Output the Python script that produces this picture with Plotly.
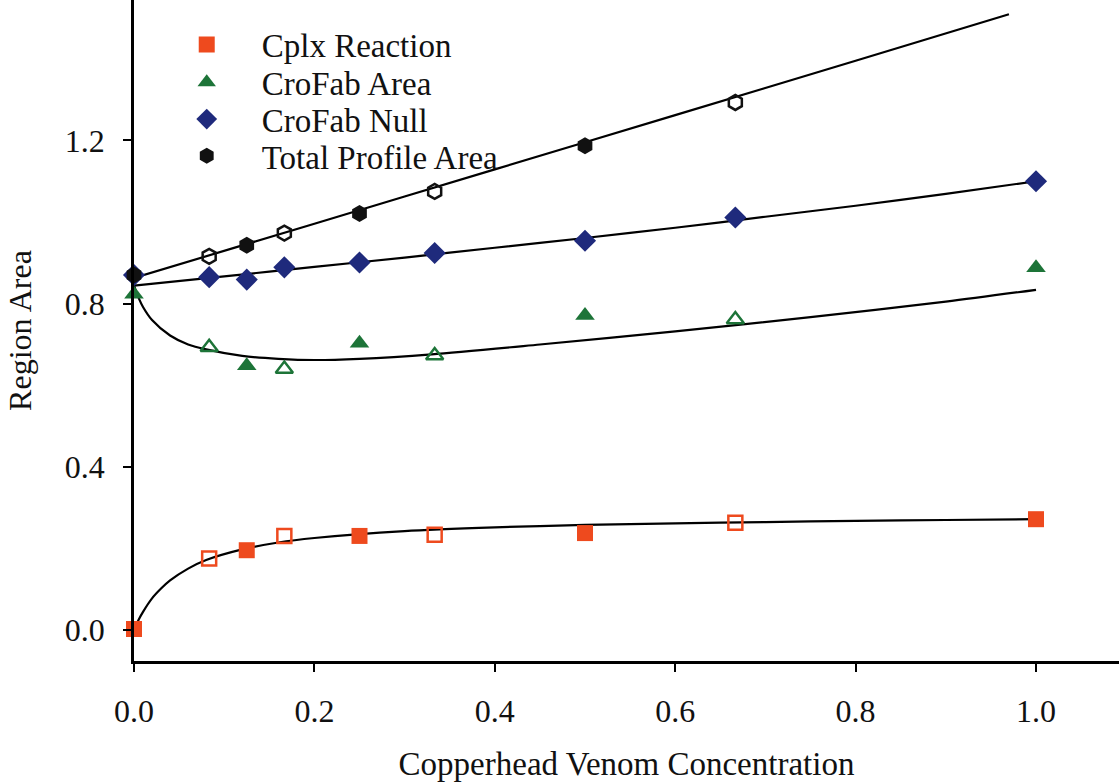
import plotly.graph_objects as go

# Venom concentrations at which each region area was measured
conc = [0.0, 1/12, 1/8, 1/6, 1/4, 1/3, 1/2, 2/3, 1.0]

cplx_reaction = [0.003, 0.176, 0.196, 0.231, 0.231, 0.234, 0.238, 0.263, 0.272]
crofab_area = [0.823, 0.693, 0.648, 0.640, 0.703, 0.673, 0.771, 0.761, 0.888]
crofab_null = [0.870, 0.865, 0.859, 0.889, 0.901, 0.924, 0.954, 1.011, 1.100]
total_area = [0.870, 0.916, 0.943, 0.973, 1.021, 1.075, 1.187, 1.293]

# Fitted curves, sampled along the concentration axis
cplx_fit_x = [0.0, 0.005, 0.01, 0.02, 0.03, 0.04, 0.06, 0.08, 0.12, 0.16, 0.2, 0.3, 0.4, 0.5, 0.6, 0.7, 0.8, 0.9, 1.0]
cplx_fit_y = [0.0, 0.025, 0.045, 0.078, 0.102, 0.122, 0.151, 0.172, 0.198, 0.215, 0.226, 0.243, 0.252, 0.258, 0.262, 0.265, 0.268, 0.270, 0.272]

area_fit_x = [0.0, 0.005, 0.01, 0.02, 0.04, 0.06, 0.08, 0.12, 0.16, 0.2, 0.25, 0.33, 0.45, 0.6, 0.75, 0.9, 1.0]
area_fit_y = [0.844, 0.815, 0.792, 0.760, 0.722, 0.700, 0.688, 0.672, 0.665, 0.662, 0.665, 0.676, 0.700, 0.732, 0.767, 0.805, 0.834]

null_fit_x = [0.0, 0.1, 0.2, 0.3, 0.4, 0.5, 0.6, 0.7, 0.8, 0.9, 1.0]
null_fit_y = [0.844, 0.867, 0.890, 0.913, 0.937, 0.961, 0.986, 1.013, 1.040, 1.069, 1.100]

total_fit_x = [0.0, 0.2, 0.4, 0.6, 0.8, 0.97]
total_fit_y = [0.863, 0.996, 1.129, 1.262, 1.395, 1.509]

RED = "#ee4a1e"
GREEN = "#1d7438"
NAVY = "#1f2a7c"
BLACK = "#111111"
FONT = "Liberation Serif"

fig = go.Figure()

# Fit lines underneath the markers
for fx, fy in [(cplx_fit_x, cplx_fit_y), (area_fit_x, area_fit_y),
               (null_fit_x, null_fit_y), (total_fit_x, total_fit_y)]:
    fig.add_trace(go.Scatter(
        x=fx, y=fy, mode="lines", showlegend=False, hoverinfo="skip",
        line=dict(color="black", width=2.2, shape="spline", smoothing=0.8),
        cliponaxis=False,
    ))


def add_series(name, ys, symbol, color, size, legend_id, alternate=True):
    """Solid markers at even indices, hollow markers at odd ones."""
    solid_x = [c for i, c in enumerate(conc[:len(ys)]) if not alternate or i % 2 == 0]
    solid_y = [v for i, v in enumerate(ys) if not alternate or i % 2 == 0]
    fig.add_trace(go.Scatter(
        x=solid_x, y=solid_y, mode="markers", name=name, legendgroup=name,
        legend=legend_id,
        marker=dict(symbol=symbol, color=color, size=size, line=dict(width=0)),
        cliponaxis=False,
    ))
    if alternate:
        hx = [c for i, c in enumerate(conc[:len(ys)]) if i % 2 == 1]
        hy = [v for i, v in enumerate(ys) if i % 2 == 1]
        fig.add_trace(go.Scatter(
            x=hx, y=hy, mode="markers", name=name, legendgroup=name, showlegend=False,
            marker=dict(symbol=symbol + "-open", color=color, size=size - 2,
                        line=dict(width=2.5, color=color)),
            cliponaxis=False,
        ))


add_series("Cplx Reaction", cplx_reaction, "square", RED, 16, "legend")
add_series("CroFab Area", crofab_area, "triangle-up", GREEN, 17, "legend2")
add_series("CroFab Null", crofab_null, "diamond", NAVY, 17, "legend3", alternate=False)
add_series("Total Profile Area", total_area, "hexagon", BLACK, 17, "legend4")

# One legend box per entry so the rows sit close together
PLOT_H = 666
row_centres = [45, 83, 120, 157]
legend_boxes = {}
for key, yc in zip(["legend", "legend2", "legend3", "legend4"], row_centres):
    legend_boxes[key] = dict(
        x=0.018, y=1 - yc / PLOT_H, xanchor="left", yanchor="middle",
        bgcolor="rgba(0,0,0,0)", font=dict(family=FONT, size=33, color="#111111"),
        itemwidth=100,
    )

fig.update_layout(
    width=1119, height=782,
    margin=dict(l=134, r=0, t=0, b=116),
    paper_bgcolor="white", plot_bgcolor="white",
    font=dict(family=FONT, color="#111111", size=32),
    showlegend=True,
    **legend_boxes,
    xaxis=dict(
        range=[0, 1.092], tickvals=[0, 0.2, 0.4, 0.6, 0.8, 1.0],
        ticktext=["0.0", "0.2", "0.4", "0.6", "0.8", "1.0"],
        showline=True, linecolor="black", linewidth=2.5,
        ticks="outside", ticklen=8, tickwidth=2, tickcolor="black",
        showgrid=False, zeroline=False, ticklabelstandoff=12,
        tickfont=dict(family=FONT, size=32),
        title=dict(text="Copperhead Venom Concentration", standoff=30,
                   font=dict(family=FONT, size=33)),
    ),
    yaxis=dict(
        range=[-0.0754, 1.544], tickvals=[0, 0.4, 0.8, 1.2],
        ticktext=["0.0", "0.4", "0.8", "1.2"],
        showline=True, linecolor="black", linewidth=2.5,
        ticks="outside", ticklen=8, tickwidth=2, tickcolor="black",
        showgrid=False, zeroline=False, ticklabelstandoff=12,
        tickfont=dict(family=FONT, size=32),
        title=dict(text="Region Area", standoff=24,
                   font=dict(family=FONT, size=32)),
    ),
)

fig.write_html("out.html")
